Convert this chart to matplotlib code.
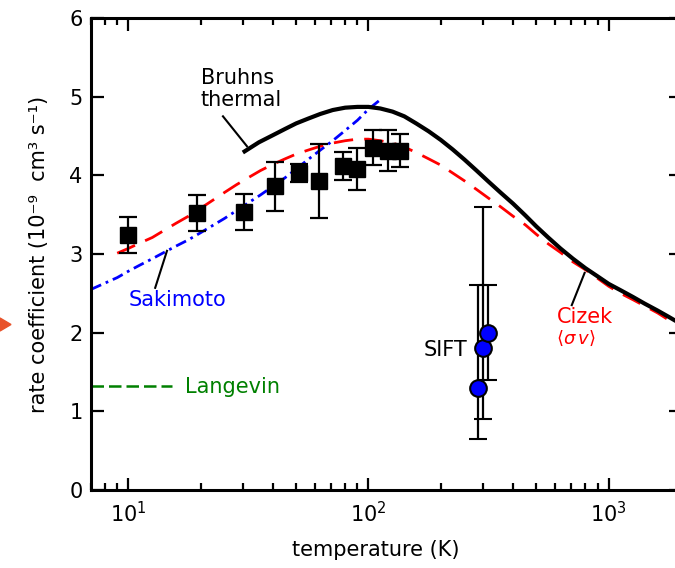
import matplotlib
matplotlib.use("Agg")
import matplotlib.pyplot as plt
from matplotlib.patches import Polygon

# merged-beam measurements (T in K, k in 1e-9 cm^3 s^-1)
exp_T = [10, 19.4, 30.3, 40.8, 51.4, 62.2, 78.3, 89.6, 104.4, 120.5, 135]
exp_k = [3.24, 3.52, 3.53, 3.86, 4.03, 3.93, 4.12, 4.08, 4.35, 4.31, 4.31]
exp_err = [0.23, 0.23, 0.23, 0.31, 0.12, 0.47, 0.18, 0.27, 0.22, 0.26, 0.21]

# SIFT points, asymmetric errors
sift_T = [285, 299, 314]
sift_k = [1.3, 1.8, 2.0]
sift_lo = [0.65, 0.9, 0.6]
sift_hi = [1.3, 1.8, 0.6]

# theory curves
bruhns_T = [30, 35, 40, 45, 50, 56, 63, 71, 80, 90, 100, 112, 126, 141, 158, 178,
            200, 224, 251, 282, 316, 355, 400, 450, 500, 560, 630, 710, 800, 900,
            1000, 1120, 1260, 1410, 1600, 1780, 2000]
bruhns_k = [4.29, 4.42, 4.51, 4.59, 4.66, 4.72, 4.78, 4.83, 4.86, 4.87, 4.87, 4.85,
            4.81, 4.75, 4.66, 4.56, 4.45, 4.33, 4.20, 4.06, 3.92, 3.78, 3.64, 3.49,
            3.35, 3.21, 3.07, 2.94, 2.82, 2.715, 2.62, 2.54, 2.455, 2.37, 2.28, 2.20, 2.11]

cizek_T = [9, 10, 11.2, 12.6, 14.1, 15.8, 17.8, 20, 22.4, 25.1, 28.2, 31.6, 35.5,
           40, 45, 50, 56, 63, 71, 80, 90, 100, 112, 126, 141, 158, 178, 200, 224,
           251, 282, 316, 355, 400, 450, 500, 560, 630, 710, 800, 900, 1000, 1120,
           1260, 1410, 1600, 1780, 2000]
cizek_k = [3.01, 3.07, 3.14, 3.21, 3.30, 3.39, 3.48, 3.58, 3.68, 3.78, 3.88, 3.97,
           4.06, 4.14, 4.21, 4.27, 4.32, 4.37, 4.41, 4.44, 4.46, 4.46, 4.44, 4.41,
           4.36, 4.29, 4.21, 4.13, 4.03, 3.93, 3.82, 3.71, 3.60, 3.48, 3.37, 3.25,
           3.13, 3.02, 2.90, 2.80, 2.69, 2.59, 2.50, 2.42, 2.34, 2.25, 2.16, 2.08]

saki_T = [7, 8, 9, 10, 11.2, 12.6, 14.1, 15.8, 17.8, 20, 22.4, 25.1, 28.2, 31.6,
          35.5, 40, 45, 50, 56, 63, 71, 80, 90, 100, 114]
saki_k = [2.55, 2.63, 2.70, 2.78, 2.86, 2.94, 3.02, 3.10, 3.18, 3.27, 3.36, 3.45,
          3.55, 3.65, 3.75, 3.86, 3.97, 4.08, 4.20, 4.32, 4.44, 4.57, 4.70, 4.84, 4.98]

lang_T = [7.0, 15.2]
lang_k = [1.32, 1.32]

fs = 15

fig = plt.figure(figsize=(6.75, 5.68), dpi=100)
ax = fig.add_axes([91 / 675, 78 / 568, 590 / 675, 472 / 568])

ax.plot(lang_T, lang_k, color='green', lw=1.8, dashes=(5, 2))
ax.plot(saki_T, saki_k, color='blue', lw=2.0, dashes=(4, 1.8, 1, 1.8))
ax.plot(cizek_T, cizek_k, color='red', lw=2.0, dashes=(7, 4))
ax.plot(bruhns_T, bruhns_k, color='black', lw=3.0, solid_capstyle='butt')

ax.errorbar(exp_T, exp_k, yerr=exp_err, fmt='s', color='black', ms=12,
            elinewidth=1.6, capsize=6.5, capthick=1.6, zorder=4)
ax.errorbar(sift_T, sift_k, yerr=[sift_lo, sift_hi], fmt='o', mfc='blue', mec='black',
            mew=1.5, ms=12, ecolor='black', elinewidth=1.6, capsize=6.5, capthick=1.6, zorder=5)

# labels and leader lines
ax.text(20, 5.1, 'Bruhns\nthermal', fontsize=fs, ha='left', va='center', linespacing=1.1)
ax.plot([24.8, 31.2], [4.75, 4.37], color='black', lw=1.5)

ax.text(10.0, 2.42, 'Sakimoto', fontsize=fs, color='blue', ha='left', va='center')
ax.plot([12.95, 14.5], [2.57, 3.04], color='black', lw=1.5)

ax.text(17.3, 1.31, 'Langevin', fontsize=fs, color='green', ha='left', va='center')

ax.text(608, 2.20, 'Cizek', fontsize=fs, color='red', ha='left', va='center')
ax.text(606, 1.93, r'$\langle\sigma\,v\rangle$', fontsize=13, color='red', ha='left', va='center')
ax.plot([702, 794], [2.35, 2.76], color='black', lw=1.5)

ax.text(257, 1.78, 'SIFT', fontsize=fs, ha='right', va='center')

ax.set_xscale('log')
ax.set_xlim(7, 2000)
ax.set_ylim(0, 6)
ax.set_yticks([0, 1, 2, 3, 4, 5, 6])

for s in ax.spines.values():
    s.set_linewidth(2.2)
ax.tick_params(which='both', direction='in', top=True, right=True, width=1.6, labelsize=fs)
ax.tick_params(which='major', length=9)
ax.tick_params(which='minor', length=5)
ax.tick_params(axis='x', pad=8)
ax.tick_params(axis='y', pad=6)

ax.set_xlabel('temperature (K)', fontsize=fs)
ax.set_ylabel('rate coefficient (10⁻⁹  cm³ s⁻¹)', fontsize=fs)
ax.xaxis.set_label_coords(0.483, -0.105)
ax.yaxis.set_label_coords(-0.072, 0.5)

# small orange marker at left edge of the original
tri = Polygon([[0, 1 - 318 / 568], [11 / 675, 1 - 324.5 / 568], [0, 1 - 331 / 568]],
              closed=True, color='#e8532b', transform=fig.transFigure)
fig.patches.append(tri)

fig.savefig('out.png', dpi=100)
